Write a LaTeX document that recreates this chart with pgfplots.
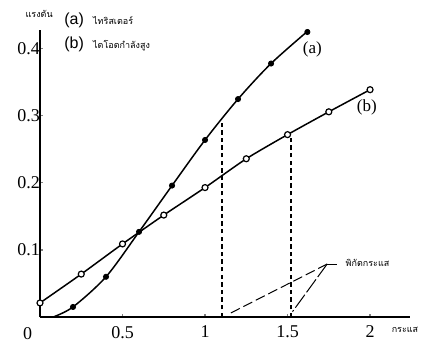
\documentclass[border=0pt]{standalone}
\usepackage{fontspec}
\setmainfont{Liberation Serif}
\newfontfamily\sansf{Liberation Sans}
\newfontfamily\thai[Script=Thai]{Loma}
\usepackage{pgfplots}
\pgfplotsset{compat=1.18}
\begin{document}
\begin{tikzpicture}
\useasboundingbox (-20pt,-13.5pt) rectangle (191pt,158.5pt);
\begin{axis}[
  at={(0pt,0pt)}, anchor=origin,
  scale only axis, width=185pt, height=143.5pt,
  xmin=0, xmax=2.242, ymin=0, ymax=0.428,
  axis x line=bottom, axis y line=left,
  axis line style={-, line width=0.8pt},
  xtick={0.5,1,1.5,2}, ytick={0.1,0.2,0.3,0.4},
  xticklabels={0.5,1,1.5,2}, yticklabels={0.1,0.2,0.3,0.4},
  tick align=inside, major tick length=1.5pt,
  tick style={line width=0.6pt},
  /pgf/number format/assume math mode=true,
  ticklabel style={font=\fontsize{9}{10}\selectfont},
  xticklabel style={yshift=-1pt},
  yticklabel style={xshift=3.5pt},
  clip=false,
]
% series (a)
\addplot[black, line width=0.75pt, smooth, tension=0.5] coordinates {
 (0.08,0) (0.2,0.015) (0.4,0.06) (0.6,0.127) (0.8,0.196) (1.0,0.264) (1.2,0.325) (1.4,0.378) (1.63,0.428)};
\addplot[only marks, mark=*, mark size=1.3pt, black] coordinates {
 (0.2,0.015) (0.4,0.06) (0.6,0.127) (0.8,0.196) (1.0,0.264) (1.2,0.325) (1.4,0.378) (1.62,0.425)};
% series (b)
\addplot[black, line width=0.75pt, smooth, tension=0.4] coordinates {
 (0,0.021) (0.25,0.064) (0.5,0.109) (0.75,0.152) (1.0,0.193) (1.25,0.236) (1.5,0.272) (1.75,0.306) (2.0,0.339)};
\addplot[only marks, mark=*, mark size=1.5pt, mark options={fill=white, draw=black, line width=0.6pt}] coordinates {
 (0,0.021) (0.25,0.064) (0.5,0.109) (0.75,0.152) (1.0,0.193) (1.25,0.236) (1.5,0.272) (1.75,0.306) (2.0,0.339)};
% dashed drop lines
\addplot[black, line width=1pt, dash pattern=on 2.2pt off 1.6pt] coordinates {(1.102,0) (1.102,0.294)};
\addplot[black, line width=1pt, dash pattern=on 2.2pt off 1.6pt] coordinates {(1.52,0) (1.52,0.272)};
% leader lines
\draw[line width=0.5pt, dash pattern=on 5pt off 2pt] (axis cs:1.74,0.079) -- (axis cs:1.14,0.004);
\draw[line width=0.5pt, dash pattern=on 8pt off 1.5pt] (axis cs:1.74,0.079) -- (axis cs:1.53,0.008);
\draw[line width=0.5pt] (axis cs:1.74,0.079) -- (axis cs:1.80,0.079);
\node[anchor=west, inner sep=0pt, font=\thai\fontsize{4.5}{5}\selectfont] at (axis cs:1.85,0.080) {พิกัดกระแส};
% curve labels
\node[font=\fontsize{8.5}{9}\selectfont] at (axis cs:1.65,0.399) {(a)};
\node[font=\fontsize{8.5}{9}\selectfont] at (axis cs:1.98,0.313) {(b)};
% zero label
\node[font=\fontsize{9}{10}\selectfont] at (axis cs:-0.075,-0.024) {0};
% axis titles
\node[font=\thai\fontsize{4.5}{5}\selectfont] at (axis cs:-0.005,0.452) {แรงดัน};
\node[anchor=east, inner sep=0.5pt, font=\thai\fontsize{4.5}{5}\selectfont] at (axis cs:2.30,-0.019) {กระแส};
% legend
\node[anchor=west, inner sep=0pt, font=\sansf\fontsize{8}{9}\selectfont] at (axis cs:0.145,0.443) {(a)};
\node[anchor=west, inner sep=0pt, font=\thai\fontsize{4.5}{5}\selectfont] at (axis cs:0.32,0.442) {ไทริสเตอร์};
\node[anchor=west, inner sep=0pt, font=\sansf\fontsize{8}{9}\selectfont] at (axis cs:0.145,0.406) {(b)};
\node[anchor=west, inner sep=0pt, font=\thai\fontsize{4.5}{5}\selectfont] at (axis cs:0.32,0.405) {ไดโอดกำลังสูง};
\end{axis}
\end{tikzpicture}
\end{document}
